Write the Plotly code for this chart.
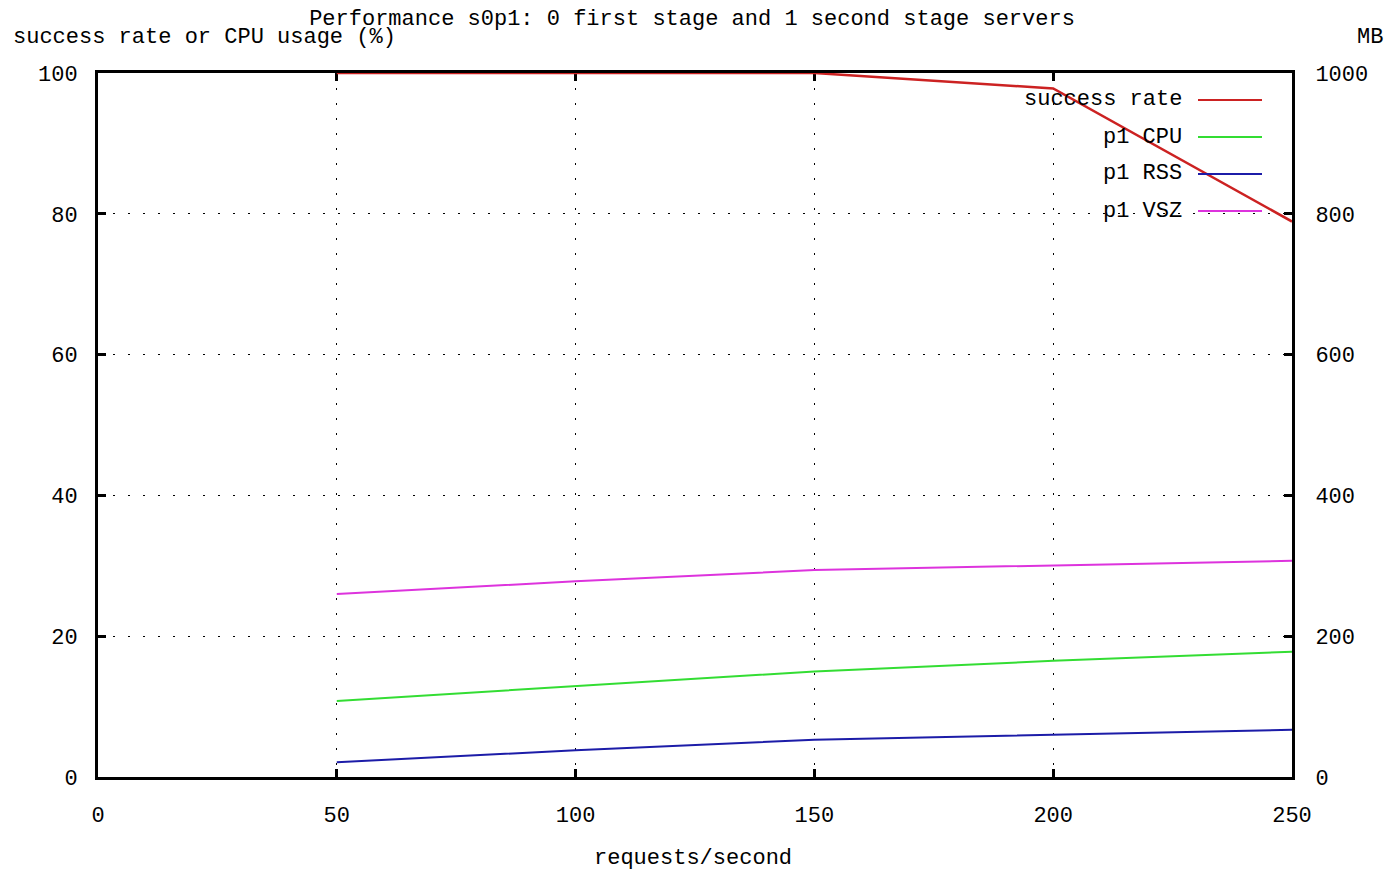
import plotly.graph_objects as go

# requests/second
rps = [50, 100, 150, 200, 250]

# left axis (%)
success_rate = [100, 100, 100, 97.8, 78.9]
p1_cpu = [10.8, 12.9, 15.0, 16.5, 17.8]

# right axis (MB)
p1_rss = [21, 38, 53, 60, 67]
p1_vsz = [260, 278, 294, 300, 307]

NAMES = ["success rate", "p1 CPU", "p1 RSS", "p1 VSZ"]
COLORS = ["#cc2222", "#33dd33", "#1c1ca8", "#dd33dd"]

FONT = "Liberation Mono"
OFF = 8  # page body margin
W, H = 1394 - 2 * OFF, 882 - 2 * OFF
# plot area in screenshot pixels
L, R, T, B = 98, 1292, 73, 777


def px(x):
    return (x - L) / (R - L)


def py(y):
    return (B - y) / (B - T)


fig = go.Figure()
fig.add_trace(go.Scatter(x=rps, y=success_rate, mode="lines", name=NAMES[0],
                         line=dict(color=COLORS[0], width=2.5)))
fig.add_trace(go.Scatter(x=rps, y=p1_cpu, mode="lines", name=NAMES[1],
                         line=dict(color=COLORS[1], width=2)))
fig.add_trace(go.Scatter(x=rps, y=p1_rss, mode="lines", name=NAMES[2], yaxis="y2",
                         line=dict(color=COLORS[2], width=2)))
fig.add_trace(go.Scatter(x=rps, y=p1_vsz, mode="lines", name=NAMES[3], yaxis="y2",
                         line=dict(color=COLORS[3], width=2)))

# gnuplot style key: white box hides the grid, text right aligned, sample on right
shapes = [dict(type="rect", xref="paper", yref="paper", layer="between",
               x0=px(1015), x1=px(1275), y0=py(226), y1=py(82),
               fillcolor="white", line=dict(width=0))]
annotations = []
for i, (name, col) in enumerate(zip(NAMES, COLORS)):
    yy = py(100 + 37 * i)
    annotations.append(dict(text=name, xref="paper", yref="paper", x=px(1184), y=yy,
                            xanchor="right", yanchor="middle", showarrow=False,
                            font=dict(family=FONT, size=22, color="black")))
    shapes.append(dict(type="line", xref="paper", yref="paper",
                       x0=px(1198), x1=px(1262), y0=yy, y1=yy,
                       line=dict(color=col, width=2)))

annotations += [
    dict(text="success rate or CPU usage (%)", xref="paper", yref="paper",
         x=px(11), y=py(37), xanchor="left", yanchor="middle", showarrow=False,
         font=dict(family=FONT, size=22, color="black")),
    dict(text="MB", xref="paper", yref="paper", x=px(1385), y=py(37),
         xanchor="right", yanchor="middle", showarrow=False,
         font=dict(family=FONT, size=22, color="black")),
    dict(text="requests/second", xref="paper", yref="paper", x=px(693), y=py(858),
         xanchor="center", yanchor="middle", showarrow=False,
         font=dict(family=FONT, size=22, color="black")),
]

grid = dict(showgrid=True, gridcolor="black", gridwidth=1, griddash="2px,13px")

fig.update_layout(
    width=W, height=H,
    margin=dict(l=L - OFF, r=W + OFF - R, t=T - OFF, b=H + OFF - B),
    paper_bgcolor="white", plot_bgcolor="white",
    showlegend=False,
    font=dict(family=FONT, size=22, color="black"),
    title=dict(text="Performance s0p1: 0 first stage and 1 second stage servers",
               x=(692 - OFF) / W, xanchor="center", y=1 - (17 - OFF) / H,
               yanchor="middle",
               font=dict(family=FONT, size=22, color="black")),
    xaxis=dict(range=[0, 250], tickvals=[0, 50, 100, 150, 200, 250],
               ticks="inside", ticklen=8, tickwidth=3, tickcolor="black",
               showline=True, linecolor="black", linewidth=3, mirror="ticks",
               zeroline=False, ticklabelstandoff=16, layer="below traces", **grid),
    yaxis=dict(range=[0, 100], tickvals=[0, 20, 40, 60, 80, 100],
               ticks="inside", ticklen=8, tickwidth=3, tickcolor="black",
               showline=True, linecolor="black", linewidth=3, mirror=True,
               zeroline=False, ticklabelstandoff=13, layer="below traces", **grid),
    yaxis2=dict(range=[0, 1000], tickvals=[0, 200, 400, 600, 800, 1000],
                overlaying="y", side="right",
                ticks="inside", ticklen=8, tickwidth=3, tickcolor="black",
                showline=True, linecolor="black", linewidth=3,
                showgrid=False, zeroline=False, ticklabelstandoff=16),
    shapes=shapes,
    annotations=annotations,
)

fig.write_html("out.html")
